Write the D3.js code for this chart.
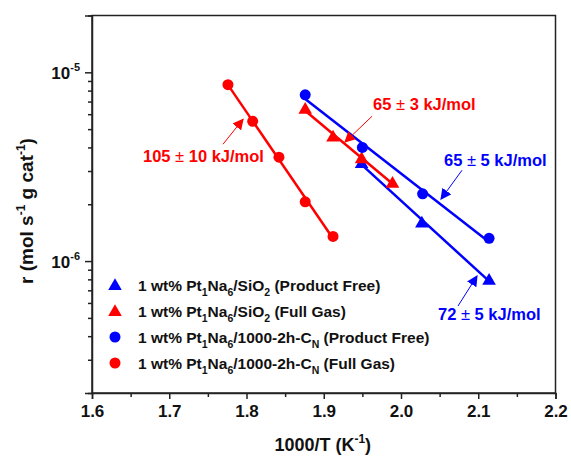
<!DOCTYPE html>
<html>
<head>
<meta charset="utf-8">
<script src="https://cdn.jsdelivr.net/npm/d3@7"></script>
<style>
  body { margin: 0; background: #fff; }
  svg { display: block; font-family: Arial, 'Liberation Sans', sans-serif; font-weight: bold; }
</style>
</head>
<body>
<div id="chart"></div>
<script>
// data
const xTicks = [1.6, 1.7, 1.8, 1.9, 2.0, 2.1, 2.2];

const siPfX = [1.949, 2.027, 2.114];
const siPfR = [3.3e-6, 1.6e-6, 7.95e-7];

const siFgX = [1.876, 1.912, 1.949, 1.989];
const siFgR = [6.4e-6, 4.57e-6, 3.5e-6, 2.6e-6];

const cnPfX = [1.876, 1.950, 2.028, 2.114];
const cnPfR = [7.6e-6, 4.0e-6, 2.27e-6, 1.32e-6];

const cnFgX = [1.776, 1.808, 1.842, 1.876, 1.912];
const cnFgR = [8.6e-6, 5.5e-6, 3.55e-6, 2.06e-6, 1.35e-6];

const series = [
  {x: siPfX, r: siPfR, color: '#0000ff', shape: 'tri', name: ['1 wt% Pt', ['1'], 'Na', ['6'], '/SiO', ['2'], ' (Product Free)']},
  {x: siFgX, r: siFgR, color: '#ff0000', shape: 'tri', name: ['1 wt% Pt', ['1'], 'Na', ['6'], '/SiO', ['2'], ' (Full Gas)']},
  {x: cnPfX, r: cnPfR, color: '#0000ff', shape: 'circle', name: ['1 wt% Pt', ['1'], 'Na', ['6'], '/1000-2h-C', ['N'], ' (Product Free)']},
  {x: cnFgX, r: cnFgR, color: '#ff0000', shape: 'circle', name: ['1 wt% Pt', ['1'], 'Na', ['6'], '/1000-2h-C', ['N'], ' (Full Gas)']}
];

// activation energy labels, [x, r] in data units
const notes = [
  {text: ['105', ' \u00b1 ', '10 kJ/mol'], color: '#ff0000', at: [1.666, 3.34e-6], from: [1.7696, 4.16e-6], to: [1.7955, 5.64e-6]},
  {text: ['65', ' \u00b1 ', '3 kJ/mol'], color: '#ff0000', at: [1.9638, 6.29e-6], from: [1.9625, 5.85e-6], to: [1.9275, 4.27e-6]},
  {text: ['65', ' \u00b1 ', '5 kJ/mol'], color: '#0000ff', at: [2.0557, 3.18e-6], from: [2.079, 3.03e-6], to: [2.0518, 2.13e-6]},
  {text: ['72', ' \u00b1 ', '5 kJ/mol'], color: '#0000ff', at: [2.0479, 4.89e-7], from: [2.0738, 5.78e-7], to: [2.0984, 8.34e-7]}
];

const svgWidth = 571;
const svgHeight = 456;
const margin = {top: 15.5, right: 15.5, bottom: 63, left: 92};
const width = svgWidth - margin.left - margin.right;
const height = svgHeight - margin.top - margin.bottom;

const svg = d3.select('#chart').append('svg')
    .attr('width', svgWidth)
    .attr('height', svgHeight);

const defs = svg.append('defs');
['#ff0000', '#0000ff'].forEach((c, i) => {
  defs.append('marker')
      .attr('id', 'head' + i)
      .attr('viewBox', '0 0 10 10')
      .attr('refX', 9).attr('refY', 5)
      .attr('markerWidth', 11).attr('markerHeight', 11)
      .attr('markerUnits', 'userSpaceOnUse')
      .attr('orient', 'auto')
      .append('path')
      .attr('d', 'M0,0 L10,5 L0,10 z')
      .attr('fill', c);
});

const g = svg.append('g').attr('transform', `translate(${margin.left}, ${margin.top})`);

const x = d3.scaleLinear().domain([1.6, 2.2]).range([0, width]);
const y = d3.scaleLog().domain([2e-7, 2e-5]).range([height, 0]);

// frame
g.append('rect')
    .attr('width', width).attr('height', height)
    .attr('fill', 'none').attr('stroke', '#222').attr('stroke-width', 1.5);

// x axis
const xMinor = d3.range(1.65, 2.2, 0.1);
g.append('g')
    .attr('transform', `translate(0, ${height})`)
    .call(d3.axisBottom(x).tickValues(xMinor).tickSize(4).tickFormat(''))
    .call(a => a.select('.domain').remove())
    .call(a => a.selectAll('line').attr('stroke', '#222').attr('stroke-width', 1.5));
const xAxis = g.append('g')
    .attr('transform', `translate(0, ${height})`)
    .call(d3.axisBottom(x).tickValues(xTicks).tickSize(6).tickFormat(d3.format('.1f')))
    .call(a => a.select('.domain').attr('stroke', '#222').attr('stroke-width', 1.5));
xAxis.selectAll('line').attr('stroke', '#222').attr('stroke-width', 1.5);
xAxis.selectAll('text')
    .attr('y', 12)
    .attr('fill', '#111')
    .style('font-size', '17px')
    .style('font-weight', 'bold');

// y axis
const yMinor = [];
[1e-7, 1e-6, 1e-5].forEach(p => d3.range(2, 10).forEach(k => {
  const v = k * p;
  if (v >= 2e-7 && v <= 2e-5) yMinor.push(v);
}));
g.append('g')
    .call(d3.axisLeft(y).tickValues(yMinor).tickSize(4).tickFormat(''))
    .call(a => a.select('.domain').remove())
    .call(a => a.selectAll('line').attr('stroke', '#222').attr('stroke-width', 1.5));
const yAxis = g.append('g')
    .call(d3.axisLeft(y).tickValues([1e-6, 1e-5]).tickSize(7).tickFormat(''))
    .call(a => a.select('.domain').attr('stroke', '#222').attr('stroke-width', 1.5));
yAxis.selectAll('line').attr('stroke', '#222').attr('stroke-width', 1.5);
yAxis.selectAll('.tick').append('text')
    .attr('x', -12).attr('y', 6)
    .attr('text-anchor', 'end')
    .attr('fill', '#111')
    .style('font-size', '17px')
    .style('font-weight', 'bold')
    .each(function(d) {
      const t = d3.select(this);
      t.append('tspan').text('10');
      t.append('tspan').attr('dy', -8).style('font-size', '11px').text(Math.round(Math.log10(d)));
    });

// axis titles
const xTitle = svg.append('text')
    .attr('x', margin.left + width / 2 - 1)
    .attr('y', 451)
    .attr('text-anchor', 'middle')
    .style('font-size', '18px')
    .attr('fill', '#111');
xTitle.append('tspan').text('1000/T (K');
xTitle.append('tspan').attr('dy', -8).style('font-size', '12px').text('-1');
xTitle.append('tspan').attr('dy', 8).text(')');

const yTitle = svg.append('text')
    .attr('transform', 'translate(33, 211) rotate(-90)')
    .attr('text-anchor', 'middle')
    .style('font-size', '19px')
    .attr('fill', '#111');
yTitle.append('tspan').text('r (mol s');
yTitle.append('tspan').attr('dy', -8).style('font-size', '12px').text('-1');
yTitle.append('tspan').attr('dy', 8).text(' g cat');
yTitle.append('tspan').attr('dy', -8).style('font-size', '12px').text('-1');
yTitle.append('tspan').attr('dy', 8).text(')');

// fitted Arrhenius lines (least squares in log space over each series)
const fit = s => {
  const xs = s.x, ls = s.r.map(Math.log10);
  const mx = d3.mean(xs), ml = d3.mean(ls);
  const b = d3.sum(xs, (v, i) => (v - mx) * (ls[i] - ml)) / d3.sum(xs, v => (v - mx) ** 2);
  const x0 = d3.min(xs), x1 = d3.max(xs);
  return [[x0, 10 ** (ml + b * (x0 - mx))], [x1, 10 ** (ml + b * (x1 - mx))]];
};

const tri = d3.symbol().type(d3.symbolTriangle).size(80);

series.forEach(s => {
  const pts = s.x.map((v, i) => [v, s.r[i]]);
  const grp = g.append('g');
  if (s.shape === 'circle') {
    grp.selectAll('circle').data(pts).join('circle')
        .attr('cx', d => x(d[0])).attr('cy', d => y(d[1]))
        .attr('r', 5.5).attr('fill', s.color);
  } else {
    grp.selectAll('path').data(pts).join('path')
        .attr('d', tri)
        .attr('transform', d => `translate(${x(d[0])}, ${y(d[1]) + 1})`)
        .attr('fill', s.color);
  }
  grp.append('path')
      .datum(fit(s))
      .attr('d', d3.line().x(d => x(d[0])).y(d => y(d[1])))
      .attr('fill', 'none')
      .attr('stroke', s.color)
      .attr('stroke-width', 2.5);
});

// annotations
notes.forEach(n => {
  const idx = n.color === '#ff0000' ? 0 : 1;
  g.append('line')
      .attr('x1', x(n.from[0])).attr('y1', y(n.from[1]))
      .attr('x2', x(n.to[0])).attr('y2', y(n.to[1]))
      .attr('stroke', n.color).attr('stroke-width', 1)
      .attr('marker-end', `url(#head${idx})`);
  const t = g.append('text')
      .attr('x', x(n.at[0])).attr('y', y(n.at[1]))
      .attr('fill', n.color)
      .style('font-size', '16.5px');
  t.append('tspan').text(n.text[0]);
  t.append('tspan').style('font-weight', 'normal').text(n.text[1]);
  t.append('tspan').text(n.text[2]);
});

// legend
const legend = svg.append('g').attr('transform', 'translate(115, 285)');
series.forEach((s, i) => {
  const row = legend.append('g').attr('transform', `translate(0, ${i * 26})`);
  if (s.shape === 'circle') {
    row.append('circle').attr('r', 5.5).attr('fill', s.color);
  } else {
    row.append('path').attr('d', tri).attr('transform', 'translate(0, 1)').attr('fill', s.color);
  }
  const t = row.append('text')
      .attr('x', 23).attr('y', 5.5)
      .attr('fill', '#111')
      .style('font-size', '15.5px');
  s.name.forEach(part => {
    if (Array.isArray(part)) {
      t.append('tspan').attr('dy', 5).style('font-size', '10.5px').text(part[0]);
    } else {
      const sp = t.append('tspan').text(part);
      if (t.selectAll('tspan').size() > 1) sp.attr('dy', -5);
    }
  });
});
</script>
</body>
</html>
